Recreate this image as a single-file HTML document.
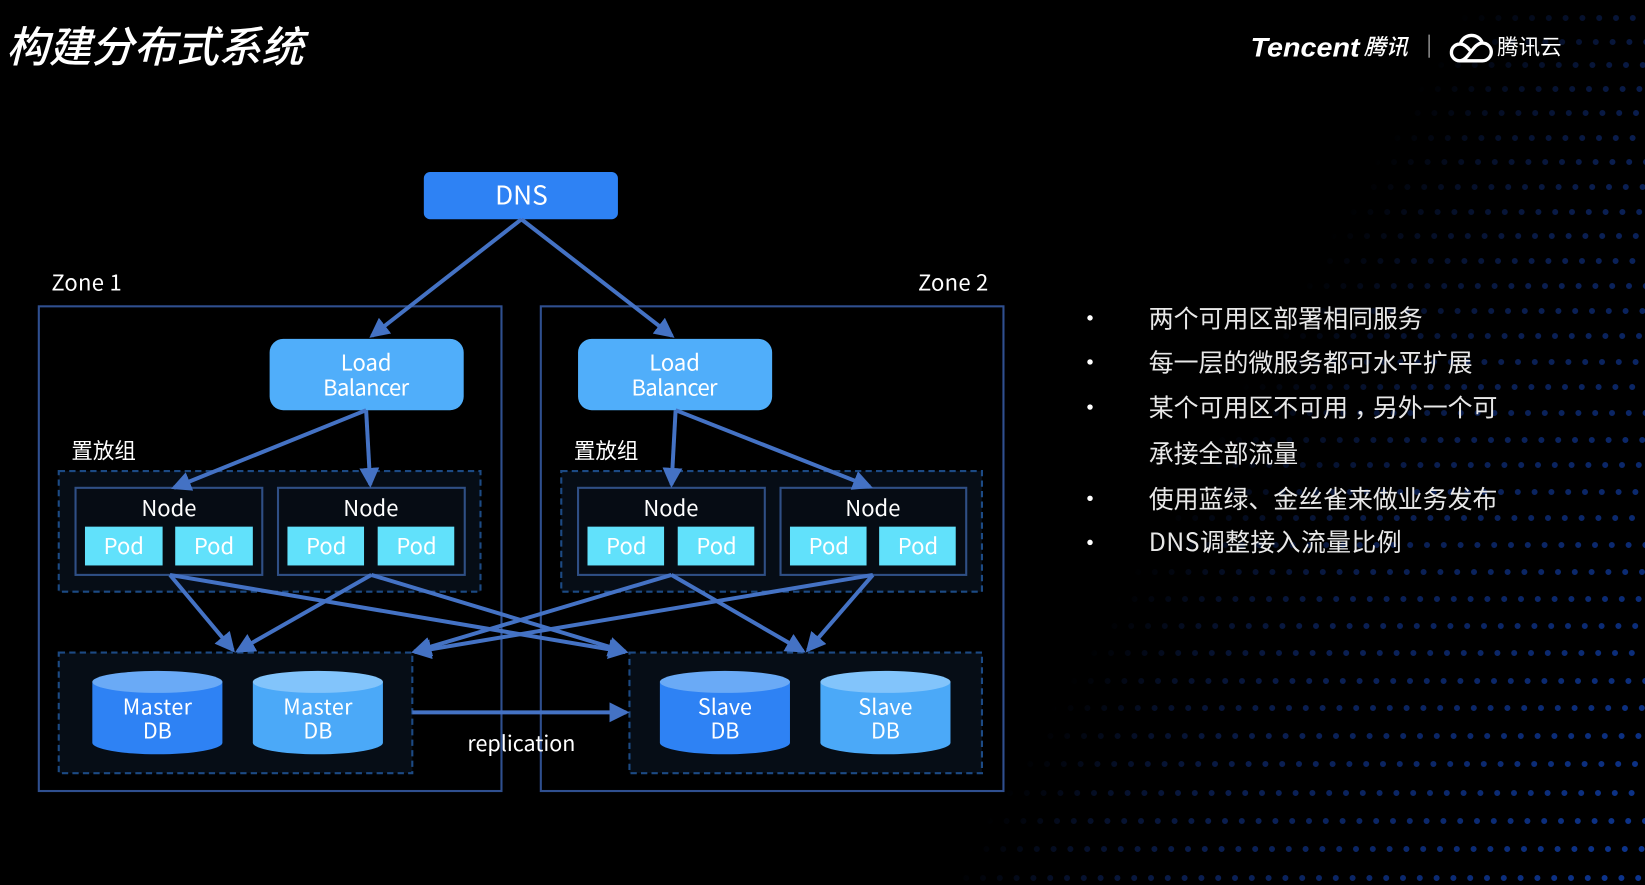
<!DOCTYPE html>
<html lang="zh">
<head>
<meta charset="utf-8">
<title>构建分布式系统</title>
<style>
html,body{margin:0;padding:0;background:#000;width:1645px;height:885px;overflow:hidden}
svg{display:block}
text{font-family:"Noto Sans CJK SC","Liberation Sans",sans-serif;fill:#fff}
.m{text-anchor:middle}
.dots line{stroke:url(#dg);stroke-width:6;stroke-linecap:round;stroke-dasharray:0 16.8}
.zone{fill:none;stroke:#2f4f8f;stroke-width:2}
.dash{fill:#060d16;stroke:#1c4a84;stroke-width:2;stroke-dasharray:6 4}
.node{fill:#060c14;stroke:#2f4f85;stroke-width:2}
.pod{fill:#61e1fb}
.arr line{stroke:#4472c4;stroke-width:3.8;marker-end:url(#ah)}
.li{font-size:23.75px;fill:#e8e8e8}
</style>
</head>
<body>
<svg width="1645" height="885" viewBox="0 0 1645 885" xmlns="http://www.w3.org/2000/svg">
<defs>
<linearGradient id="dg" gradientUnits="userSpaceOnUse" x1="1180" y1="490" x2="1696" y2="794">
<stop offset="0" stop-color="#000"/><stop offset=".15" stop-color="#050f28"/><stop offset=".35" stop-color="#0a1e50"/><stop offset="1" stop-color="#0c3590"/>
</linearGradient>
<marker id="ah" markerUnits="userSpaceOnUse" markerWidth="19" markerHeight="19" refX="16" refY="9.5" orient="auto">
<path d="M0 0L19 9.5L0 19Z" fill="#4472c4"/>
</marker>
</defs>
<rect width="1645" height="885" fill="#000"/>
<g class="dots">
<line x1="910.4" x2="1650" y1="18" y2="18"/><line x1="923.8" x2="1650" y1="42" y2="42"/><line x1="920.4" x2="1650" y1="65" y2="65"/><line x1="917" x2="1650" y1="89" y2="89"/>
<line x1="913.6" x2="1650" y1="113" y2="113"/><line x1="910.2" x2="1650" y1="138" y2="138"/><line x1="923.6" x2="1650" y1="162" y2="162"/><line x1="920.2" x2="1650" y1="187" y2="187"/>
<line x1="916.8" x2="1650" y1="212" y2="212"/><line x1="913.4" x2="1650" y1="236" y2="236"/><line x1="910" x2="1650" y1="261" y2="261"/><line x1="923.4" x2="1650" y1="286" y2="286"/>
<line x1="920" x2="1650" y1="311" y2="311"/><line x1="916.6" x2="1650" y1="336" y2="336"/><line x1="913.2" x2="1650" y1="362" y2="362"/><line x1="909.8" x2="1650" y1="387" y2="387"/>
<line x1="923.2" x2="1650" y1="413" y2="413"/><line x1="919.8" x2="1650" y1="440" y2="440"/><line x1="916.4" x2="1650" y1="465" y2="465"/><line x1="913" x2="1650" y1="492" y2="492"/>
<line x1="909.6" x2="1650" y1="518" y2="518"/><line x1="923" x2="1650" y1="545" y2="545"/><line x1="919.6" x2="1650" y1="572" y2="572"/><line x1="916.2" x2="1650" y1="599" y2="599"/>
<line x1="912.8" x2="1650" y1="626" y2="626"/><line x1="909.4" x2="1650" y1="653" y2="653"/><line x1="922.8" x2="1650" y1="681" y2="681"/><line x1="919.4" x2="1650" y1="708" y2="708"/>
<line x1="916" x2="1650" y1="736" y2="736"/><line x1="912.6" x2="1650" y1="764" y2="764"/><line x1="909.2" x2="1650" y1="793" y2="793"/><line x1="922.6" x2="1650" y1="821" y2="821"/>
<line x1="919.2" x2="1650" y1="849" y2="849"/><line x1="915.8" x2="1650" y1="878" y2="878"/>
</g>
<g transform="scale(1.0491)">
<text x="6" y="59" font-size="40.5" font-weight="500" font-style="italic">构建分布式系统</text>

<text x="1192" y="54" font-size="26" font-weight="700" font-style="italic" textLength="104" lengthAdjust="spacingAndGlyphs" style="font-family:'Liberation Sans',sans-serif">Tencent</text>
<text x="1300" y="52" font-size="21" font-weight="500" font-style="italic">腾讯</text>
<rect x="1361.5" y="33" width="1.5" height="22" fill="#888"/>
<path d="M1391 58H1413A8.5 8.5 0 0 0 1413 41A11 11 0 0 0 1392 42A8 8 0 0 0 1391 58C1400 58 1404 41 1413 41M1392 42C1396 42 1399 45 1402 49" fill="none" stroke="#fff" stroke-width="3.2"/>
<text x="1427" y="52" font-size="20.5">腾讯云</text>

<rect class="zone" x="37" y="292" width="441" height="462"/>
<rect class="zone" x="515.5" y="292" width="441" height="462"/>
<text x="49" y="277" font-size="21" textLength="67">Zone 1</text>
<text x="875" y="277" font-size="21" textLength="67">Zone 2</text>

<rect x="404" y="164" width="185" height="45" rx="6" fill="#2e82f4"/>
<text class="m" x="497" y="195" font-size="25">DNS</text>

<rect x="257" y="323" width="185" height="68" rx="13" fill="#50aefa"/>
<rect x="551" y="323" width="185" height="68" rx="13" fill="#50aefa"/>
<text class="m" x="349" y="353" font-size="21">Load</text>
<text class="m" x="349" y="377" font-size="21" textLength="82">Balancer</text>
<text class="m" x="643" y="353" font-size="21">Load</text>
<text class="m" x="643" y="377" font-size="21" textLength="82">Balancer</text>

<text x="68" y="437" font-size="20.5" fill="#e8e8e8">置放组</text>
<text x="547" y="437" font-size="20.5" fill="#e8e8e8">置放组</text>

<rect class="dash" x="56" y="449" width="402" height="115"/>
<rect class="dash" x="535" y="449" width="401" height="115"/>
<rect class="node" x="72" y="465" width="178" height="83"/>
<rect class="node" x="265" y="465" width="178" height="83"/>
<rect class="node" x="551" y="465" width="178" height="83"/>
<rect class="node" x="744" y="465" width="177" height="83"/>
<text class="m" x="161" y="492" font-size="21">Node</text>
<text class="m" x="353.5" y="492" font-size="21">Node</text>
<text class="m" x="639.5" y="492" font-size="21">Node</text>
<text class="m" x="832" y="492" font-size="21">Node</text>

<rect class="pod" x="81" y="502" width="74" height="37"/><rect class="pod" x="167" y="502" width="74" height="37"/>
<rect class="pod" x="274" y="502" width="73" height="37"/><rect class="pod" x="360" y="502" width="73" height="37"/>
<rect class="pod" x="560" y="502" width="73" height="37"/><rect class="pod" x="646" y="502" width="73" height="37"/>
<rect class="pod" x="753" y="502" width="73" height="37"/><rect class="pod" x="838" y="502" width="73" height="37"/>
<text class="m" x="118" y="528" font-size="21">Pod</text><text class="m" x="204" y="528" font-size="21">Pod</text>
<text class="m" x="311" y="528" font-size="21">Pod</text><text class="m" x="397" y="528" font-size="21">Pod</text>
<text class="m" x="597" y="528" font-size="21">Pod</text><text class="m" x="683" y="528" font-size="21">Pod</text>
<text class="m" x="790" y="528" font-size="21">Pod</text><text class="m" x="875" y="528" font-size="21">Pod</text>

<rect class="dash" x="56" y="622" width="337" height="115"/>
<rect class="dash" x="600" y="622" width="336" height="115"/>

<path d="M88 650V708A62 11 0 0 0 212 708V650Z" fill="#2e82f4"/><ellipse cx="150" cy="650" rx="62" ry="10.5" fill="#6aaaf6"/>
<path d="M241 650V708A62 11 0 0 0 365 708V650Z" fill="#4ba9f8"/><ellipse cx="303" cy="650" rx="62" ry="10.5" fill="#82c4fb"/>
<path d="M629 650V708A62 11 0 0 0 753 708V650Z" fill="#2e82f4"/><ellipse cx="691" cy="650" rx="62" ry="10.5" fill="#6aaaf6"/>
<path d="M782 650V708A62 11 0 0 0 906 708V650Z" fill="#4ba9f8"/><ellipse cx="844" cy="650" rx="62" ry="10.5" fill="#82c4fb"/>
<text class="m" x="150" y="681" font-size="20.5" textLength="66">Master</text><text class="m" x="150" y="704" font-size="20.5">DB</text>
<text class="m" x="303" y="681" font-size="20.5" textLength="66">Master</text><text class="m" x="303" y="704" font-size="20.5">DB</text>
<text class="m" x="691" y="681" font-size="20.5">Slave</text><text class="m" x="691" y="704" font-size="20.5">DB</text>
<text class="m" x="844" y="681" font-size="20.5">Slave</text><text class="m" x="844" y="704" font-size="20.5">DB</text>

<g class="arr">
<line x1="497" y1="209" x2="354.4" y2="320.2"/>
<line x1="497" y1="209" x2="640.6" y2="320.2"/>
<line x1="349" y1="391" x2="165.8" y2="464.9"/>
<line x1="349" y1="391" x2="352.9" y2="462"/>
<line x1="644" y1="391" x2="640.1" y2="462"/>
<line x1="644" y1="391" x2="829.2" y2="463.9"/>
<line x1="162" y1="548" x2="222" y2="619.7"/>
<line x1="354" y1="548" x2="226.6" y2="620.5"/>
<line x1="162" y1="548" x2="596" y2="621.5"/>
<line x1="354" y1="548" x2="596.1" y2="621.1"/>
<line x1="640" y1="548" x2="394.9" y2="621.1"/>
<line x1="832" y1="548" x2="395" y2="621.5"/>
<line x1="640" y1="548" x2="765.4" y2="620.5"/>
<line x1="832" y1="548" x2="770" y2="619.7"/>
<line x1="393" y1="679" x2="597" y2="679"/>
</g>
<text class="m" x="497" y="716" font-size="20.5">replication</text>

<circle cx="1039" cy="303" r="2.6" fill="#fff"/><circle cx="1039" cy="345" r="2.6" fill="#fff"/>
<circle cx="1039" cy="388" r="2.6" fill="#fff"/><circle cx="1039" cy="475" r="2.6" fill="#fff"/>
<circle cx="1039" cy="517" r="2.6" fill="#fff"/>
<text class="li" x="1095" y="312">两个可用区部署相同服务</text>
<text class="li" x="1095" y="354">每一层的微服务都可水平扩展</text>
<text class="li" x="1095" y="397">某个可用区不可用<tspan dx="6">，</tspan><tspan dx="-6">另外一个可</tspan></text>
<text class="li" x="1095" y="441">承接全部流量</text>
<text class="li" x="1095" y="484">使用蓝绿、金丝雀来做业务发布</text>
<text class="li" x="1095" y="525" textLength="241">DNS调整接入流量比例</text>
</g>
</svg>
</body>
</html>
